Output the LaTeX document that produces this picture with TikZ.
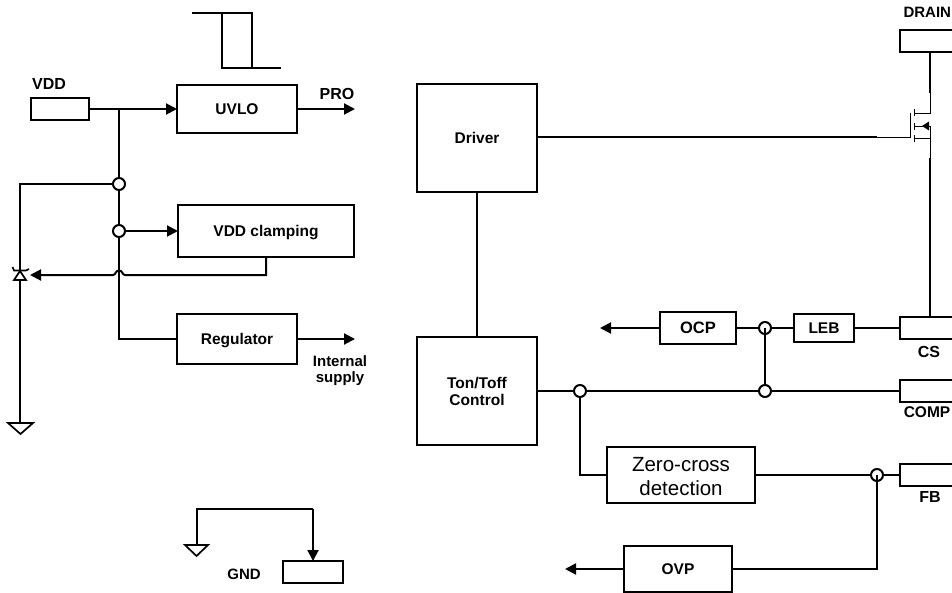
\documentclass[tikz,border=0pt]{standalone}
\usepackage{fontspec}
\setmainfont{Liberation Sans}
\usetikzlibrary{arrows.meta}
\tikzset{
  x=1pt,y=-1pt,
  blk/.style={draw=black,line width=2pt,fill=white,inner sep=0pt,outer sep=0pt,align=center,font=\fontsize{15.5}{17}\selectfont\bfseries},
  lab/.style={inner sep=0pt,outer sep=0pt,align=center,font=\fontsize{16}{18}\selectfont\bfseries},
  wire/.style={line width=2pt,line join=miter},
  thin wire/.style={line width=1pt},
  flow/.style={wire,-{Triangle[length=11pt,width=11pt]}},
  dot/.style={circle,draw=black,line width=2pt,fill=white,minimum size=12pt,inner sep=0pt,outer sep=0pt},
  gndsym/.style={draw=black,line width=1.7pt,fill=white,line join=miter},
  capcentred/.style={text height=11pt,text depth=0pt},
}
\begin{document}
\begin{tikzpicture}
\useasboundingbox (0,0) rectangle (952,592);
% ---- blocks
\node[blk,minimum width=58pt,minimum height=22pt] (vdd) at (60,109) {};
\node[blk,minimum width=120pt,minimum height=48pt] (uvlo) at (237,109) {UVLO};
\node[blk,capcentred,minimum width=176pt,minimum height=52pt] (clamp) at (266,231) {VDD clamping};
\node[blk,capcentred,minimum width=120pt,minimum height=50pt] (reg) at (237,339) {Regulator};
\node[blk,minimum width=60pt,minimum height=22pt] (gnd) at (313,572) {};
\node[blk,minimum width=120pt,minimum height=108pt] (driver) at (477,138) {Driver};
\node[blk,minimum width=120pt,minimum height=108pt] (ton) at (477,391) {Ton/Toff\\Control};
\node[blk,minimum width=76pt,minimum height=32pt,font=\fontsize{16.5}{18}\selectfont\bfseries] (ocp) at (698,328) {OCP};
\node[blk,minimum width=60pt,minimum height=28pt] (leb) at (824,328) {LEB};
\node[blk,minimum width=148pt,minimum height=56pt,font=\fontsize{20.5}{24}\selectfont] (zero) at (681,475) {\rule{0pt}{17pt}Zero-cross\\detection};
\node[blk,minimum width=108pt,minimum height=46pt] (ovp) at (678,569) {OVP};
\node[blk,minimum width=80pt,minimum height=22pt] (drain) at (940,41) {};
\node[blk,minimum width=80pt,minimum height=22pt] (cs) at (940,328) {};
\node[blk,minimum width=80pt,minimum height=22pt] (comp) at (940,391) {};
\node[blk,minimum width=80pt,minimum height=22pt] (fb) at (940,475) {};
% ---- labels
\node[lab] (tvdd) at (49,84) {VDD};
\node[lab] (tpro) at (337,94) {PRO};
\node[lab,font=\fontsize{15}{16}\selectfont\bfseries] (tsup) at (340,371) {Internal\\supply};
\node[lab,font=\fontsize{15}{17}\selectfont\bfseries] (tgnd) at (244,574) {GND};
\node[lab,anchor=east,font=\fontsize{15}{17}\selectfont\bfseries] (tdrain) at (951,12) {DRAIN};
\node[lab] (tcs) at (929,352) {CS};
\node[lab,font=\fontsize{15.5}{17}\selectfont\bfseries] (tcomp) at (927,412) {COMP};
\node[lab] (tfb) at (930,497) {FB};
% ---- waveform
\coordinate (w1) at (192,13); \coordinate (w2) at (252,13);
\coordinate (w3) at (252,68); \coordinate (w4) at (281,68);
\coordinate (w5) at (222,13); \coordinate (w6) at (222,68);
\draw[wire] (w1) -- (w2) -- (w3) -- (w4);
\draw[wire] (w5) -- (w6) -- (w3);
% ---- left supply
\coordinate (jvdd) at (119,109);
\coordinate (jreg) at (119,339);
\coordinate (jtop) at (119,184);
\coordinate (jcl) at (119,231);
\coordinate (zt) at (20,184);
\coordinate (zb) at (20,423);
\coordinate (g1) at (197,509);
\coordinate (g2) at (197,545);
\coordinate (gndtop) at (313,509);
\draw[flow] (vdd.east) -- (uvlo.west);
\draw[flow] (uvlo.east) -- (355,109) coordinate (proend);
\draw[wire] (jvdd) -- (jreg) -- (reg.west);
\draw[flow] (reg.east) -- (355,339) coordinate (supend);
\draw[wire] (jtop) -- (zt) -- (zb);
\node[dot] (d1) at (jtop) {};
\node[dot] (d2) at (jcl) {};
\draw[flow] (d2.east) -- (clamp.west);
% clamp feedback with jump
\coordinate (c1) at (266,257);
\coordinate (c2) at (266,275);
\coordinate (c3) at (30,275);
\draw[wire,-{Triangle[length=11pt,width=11pt]}] (c1) -- (c2) -- (125,275) .. controls (122,275) and (123,270.5) .. (119,270.5) .. controls (115,270.5) and (116,275) .. (113,275) -- (c3);
% zener
\path[draw=black,line width=1.7pt,fill=white,line join=miter] (20,271) -- (26,280) -- (14,280) -- cycle;
\draw[line width=1.7pt] (12.5,267) -- (14,270.5) -- (26,270.5) -- (29,269);
% grounds
\path[gndsym] (8,423) -- (33,423) -- (20.5,434) -- cycle;
\path[gndsym] (185,545) -- (208,545) -- (196.5,556) -- cycle;
\draw[wire] (g2) -- (g1) -- (gndtop);
\draw[flow] (gndtop) -- (gnd.north -| gndtop);
% ---- right side
\draw[wire] (driver.south) -- (ton.north);
\coordinate (gatethin) at (877,137);
\coordinate (gate) at (910,137);
\draw[wire] (driver.east |- gate) -- (gatethin);
\draw[thin wire] (gatethin) -- (gate) -- (910,113);
\draw[thin wire] (914,109) -- (914,116);
\draw[thin wire] (914,123) -- (914,130);
\draw[thin wire] (914,135) -- (914,142);
\coordinate (dthin) at (930,93);
\coordinate (sthin) at (930,158);
\draw[wire] (drain.south -| dthin) -- (dthin);
\draw[thin wire] (dthin) -- (930,113) -- (914,113);
\draw[thin wire] (914,138) -- (930,138);
\draw[thin wire] (930,126) -- (sthin);
\draw[thin wire] (914,126) -- (930,126);
\fill (922,126) -- (929,121.5) -- (929,130.5) -- cycle;
\draw[wire] (sthin) -- (cs.north -| sthin);
% ---- signal lines
\coordinate (jzc) at (580,391);
\coordinate (jocp) at (765,391);
\coordinate (jleb) at (765,328);
\coordinate (jfb) at (877,475);
\coordinate (jz2) at (580,475);
\draw[flow] (ocp.west) -- (600,328) coordinate (ocpend);
\draw[wire] (ocp.east) -- (jleb) -- (leb.west);
\draw[wire] (leb.east) -- (cs.west);
\draw[wire] (ton.east |- comp.west) -- (comp.west);
\draw[wire] (jzc) -- (jz2) -- (zero.west);
\draw[wire] (zero.east) -- (fb.west);
\node[dot] (d3) at (jzc) {};
\node[dot] (d4) at (jocp) {};
\node[dot] (d5) at (jleb) {};
\node[dot] (d6) at (jfb) {};
\draw[wire] (jleb) -- (d4.north);
\draw[wire] (jfb) -- (877,569) coordinate (jov) -- (ovp.east);
\draw[flow] (ovp.west) -- (565,569) coordinate (ovpend);
\end{tikzpicture}
\end{document}
